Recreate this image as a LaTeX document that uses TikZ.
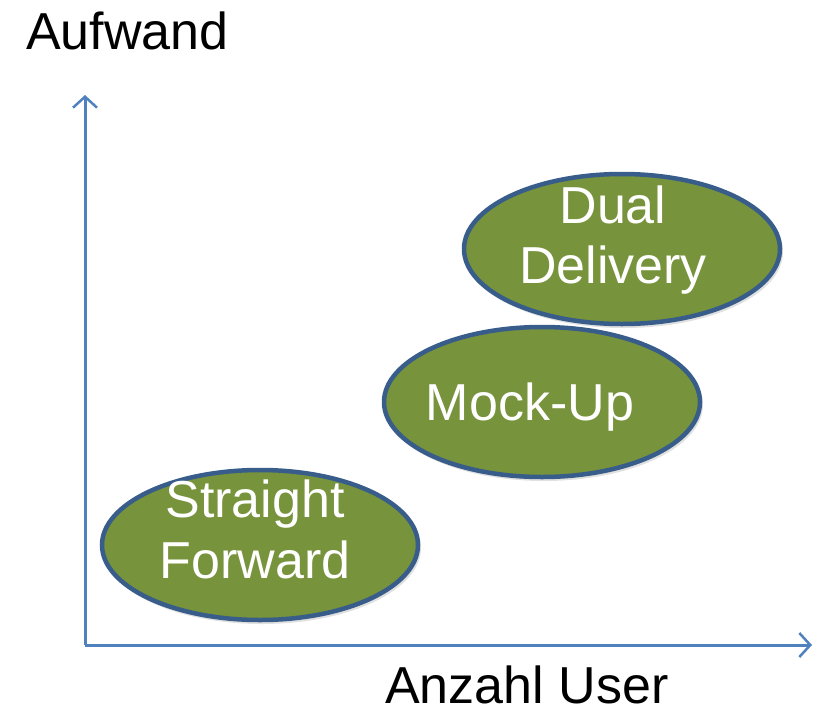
\documentclass[tikz,border=0pt]{standalone}
\usepackage{fontspec}
\setmainfont{Liberation Sans}
\usetikzlibrary{arrows.meta,shapes.geometric}
\definecolor{olivefill}{HTML}{77933C}
\definecolor{ellborder}{HTML}{385D8A}
\definecolor{axisblue}{HTML}{4F81BD}
\tikzset{
  blob/.style={ellipse, draw=ellborder, line width=4.5pt, fill=olivefill,
    minimum width=316pt, minimum height=150pt, inner sep=0pt},
  blobshadow/.style={ellipse, fill=black, opacity=0.12,
    minimum width=318pt, minimum height=152pt, inner sep=0pt},
  blobtext/.style={text=white, font=\fontsize{52}{60}\selectfont, anchor=base, inner sep=0pt},
  axistext/.style={text=black, font=\fontsize{52}{60}\selectfont, anchor=base west, inner sep=0pt},
  axisline/.style={draw=axisblue, line width=3pt,
    -{Straight Barb[length=11pt,width=24pt,line width=2.5pt]}}
}
\begin{document}
\begin{tikzpicture}[x=1pt,y=-1pt]
\useasboundingbox (0,0) rectangle (818,709);
% axes
\coordinate (origin) at (85,645);
\coordinate (ytip) at (85,95);
\coordinate (xtip) at (812,645);
\draw[axisline] (origin) -- (ytip);
\draw[axisline] (origin) -- (xtip);
% labels
\node[axistext] (aufwand) at (26,49) {Aufwand};
\node[axistext] (anzahl) at (385,703) {Anzahl User};
% shadows
\node[blobshadow] (sfs) at (262,548) {};
\node[blobshadow] (mus) at (544,405) {};
\node[blobshadow] (dds) at (624,252) {};
% ellipses
\node[blob] (sf) at (260,545) {};
\node[blob] (mu) at (542,402) {};
\node[blob] (dd) at (622,249) {};
% texts
\node[blobtext] (sf1) at (255,517) {Straight};
\node[blobtext] (sf2) at (255,578) {Forward};
\node[blobtext] (mu1) at (530,420) {Mock-Up};
\node[blobtext] (dd1) at (613,223) {Dual};
\node[blobtext] (dd2) at (613,283) {Delivery};
\end{tikzpicture}
\end{document}
